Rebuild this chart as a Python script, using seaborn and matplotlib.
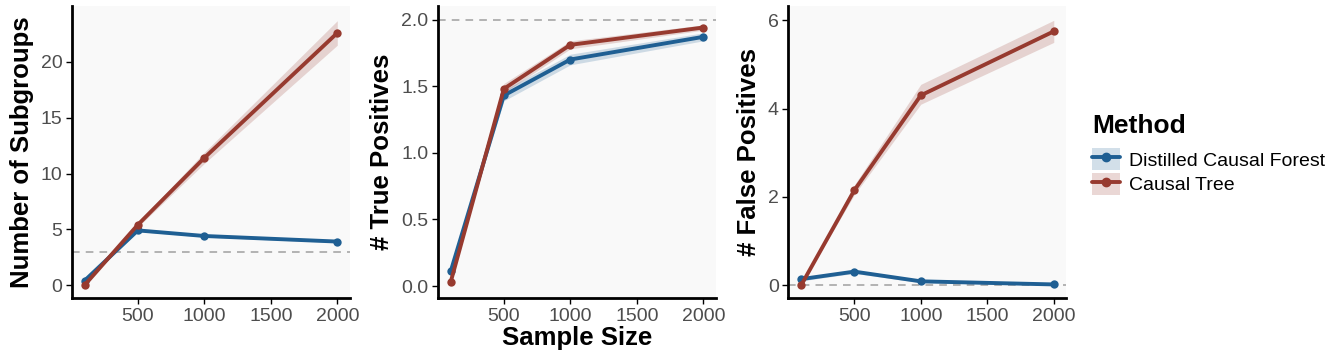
import pandas as pd
import matplotlib.pyplot as plt
import seaborn as sns
import numpy as np
from matplotlib.patches import Patch
from matplotlib.lines import Line2D

sample_size = [100, 500, 1000, 2000]
methods = ['Distilled Causal Forest', 'Causal Tree']

# number of subgroups
dcf_groups = [0.4, 4.9, 4.4, 3.9]
dcf_groups_lo = [0.3, 4.8, 4.3, 3.8]
dcf_groups_hi = [0.5, 5.0, 4.5, 4.0]
ct_groups = [0.0, 5.4, 11.4, 22.6]
ct_groups_lo = [0.0, 5.2, 10.9, 21.5]
ct_groups_hi = [0.05, 5.6, 11.9, 23.7]

# true positives
dcf_tp = [0.11, 1.43, 1.70, 1.87]
dcf_tp_lo = [0.09, 1.39, 1.66, 1.84]
dcf_tp_hi = [0.13, 1.47, 1.74, 1.90]
ct_tp = [0.03, 1.48, 1.81, 1.94]
ct_tp_lo = [0.02, 1.45, 1.78, 1.92]
ct_tp_hi = [0.04, 1.52, 1.84, 1.96]

# false positives
dcf_fp = [0.14, 0.31, 0.09, 0.02]
dcf_fp_lo = [0.10, 0.27, 0.06, 0.0]
dcf_fp_hi = [0.18, 0.35, 0.12, 0.04]
ct_fp = [0.0, 2.15, 4.3, 5.75]
ct_fp_lo = [0.0, 2.05, 4.1, 5.5]
ct_fp_hi = [0.02, 2.27, 4.55, 6.0]

ref_lines = [3, 2, 0]
ylabels = ['Number of Subgroups', '# True Positives', '# False Positives']
ylims = [(-1.17, 25.0), (-0.09, 2.1), (-0.29, 6.32)]
yticks = [[0, 5, 10, 15, 20], [0.0, 0.5, 1.0, 1.5, 2.0], [0, 2, 4, 6]]
ytick_labels = [['0', '5', '10', '15', '20'], ['0.0', '0.5', '1.0', '1.5', '2.0'], ['0', '2', '4', '6']]

colors = {'Distilled Causal Forest': '#1f5f93', 'Causal Tree': '#973a2f'}

panels = [
    (dcf_groups, dcf_groups_lo, dcf_groups_hi, ct_groups, ct_groups_lo, ct_groups_hi),
    (dcf_tp, dcf_tp_lo, dcf_tp_hi, ct_tp, ct_tp_lo, ct_tp_hi),
    (dcf_fp, dcf_fp_lo, dcf_fp_hi, ct_fp, ct_fp_lo, ct_fp_hi),
]

sns.set_style('white')
plt.rcParams['font.family'] = ['Liberation Sans', 'DejaVu Sans']
plt.rcParams['text.color'] = 'black'
plt.rcParams['axes.labelcolor'] = 'black'

fig = plt.figure(figsize=(13.33, 3.64), dpi=100)
lefts = [0.054, 0.3286, 0.5915]
width = 0.2085
bottom, top = 0.181, 0.983

for i, (d, dlo, dhi, c, clo, chi) in enumerate(panels):
    ax = fig.add_axes([lefts[i], bottom, width, top - bottom])
    ax.set_facecolor('#f9f9f9')
    df = pd.DataFrame({
        'Sample Size': sample_size * 2,
        'value': d + c,
        'Method': [methods[0]] * 4 + [methods[1]] * 4,
    })
    ax.axhline(ref_lines[i], color='#a0a0a0', lw=1.1, ls=(0, (5, 4)), zorder=1)
    ax.fill_between(sample_size, dlo, dhi, color=colors[methods[0]], alpha=0.2, lw=0, zorder=2)
    ax.fill_between(sample_size, clo, chi, color=colors[methods[1]], alpha=0.2, lw=0, zorder=2)
    sns.lineplot(data=df, x='Sample Size', y='value', hue='Method', palette=colors,
                 marker='o', markersize=6, markeredgewidth=0, linewidth=2.8,
                 errorbar=None, legend=False, ax=ax, zorder=3)
    ax.set_xlim(5, 2095)
    ax.set_ylim(*ylims[i])
    ax.set_xticks([500, 1000, 1500, 2000])
    ax.set_yticks(yticks[i])
    ax.set_yticklabels(ytick_labels[i])
    ax.set_ylabel(ylabels[i], fontsize=18.5, fontweight='bold', labelpad=5)
    ax.set_xlabel('Sample Size' if i == 1 else '', fontsize=18.5, fontweight='bold', labelpad=1)
    for s in ['top', 'right']:
        ax.spines[s].set_visible(False)
    for s in ['left', 'bottom']:
        ax.spines[s].set_linewidth(2)
        ax.spines[s].set_color('black')
    ax.tick_params(axis='both', direction='out', length=4, width=1, color='black',
                   labelsize=14, labelcolor='#4d4d4d', pad=3, bottom=True, left=True)

handles = []
for m in methods:
    handles.append((Patch(facecolor=colors[m], alpha=0.2, edgecolor='none'),
                    Line2D([0], [0], color=colors[m], lw=2.8, marker='o', markersize=6)))
leg = fig.legend(handles, methods, title='Method', loc='center left',
                 bbox_to_anchor=(0.806, 0.575), frameon=False, fontsize=14,
                 title_fontproperties={'weight': 'bold', 'size': 19},
                 handlelength=1.45, handleheight=1.4, handletextpad=0.45, labelspacing=0.12)
leg._legend_box.align = 'left'
leg._legend_box.sep = 7

fig.savefig('out.png', dpi=100)
